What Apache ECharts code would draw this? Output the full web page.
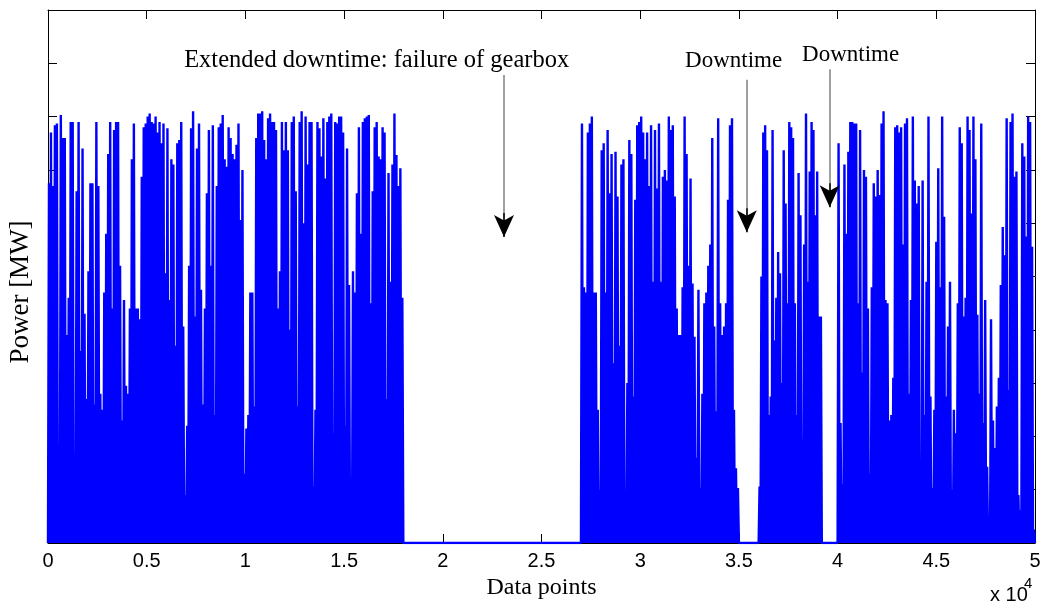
<!DOCTYPE html>
<html><head><meta charset="utf-8">
<script src="https://cdn.jsdelivr.net/npm/echarts@6/dist/echarts.min.js"></script>
<style>html,body{margin:0;padding:0;background:#fff}#c{width:1044px;height:605px}</style>
</head><body><div id="c"></div>
<script>
// x tick labels (in units of 10^4 data points)
const xTickLabels = ['0','0.5','1','1.5','2','2.5','3','3.5','4','4.5','5'];

// Upper envelope of power readings (axis units), ~100 data points per value
// Operating period 1: data points 0 - 18000
const segA = [6.75,7.7,6.7,7.84,7.87,1.75,8.03,7.6,7.6,3.9,4.6,7.9,7.9,0.75,6.6,7.9,3.6,7.4,4.3,2.7,5.1,6.75,6.75,2.6,7.9,6.7,2.8,2.5,4.7,5.8,7.3,7.9,4.4,7.75,7.9,7.9,5.2,2.3,4.56,2.95,2.8,4.4,7.2,7.87,4.4,4.4,4.2,6.87,7.8,7.87,8.0,8.06,7.9,7.87,8.0,7.7,7.9,7.5,7.87,5.06,7.78,4.56,7.2,7.1,3.7,7.5,
  7.56,7.9,4.06,0.9,2.2,5.2,7.78,8.1,4.25,7.4,7.87,4.75,2.6,4.4,6.56,7.75,5.2,7.84,2.4,6.7,7.8,7.87,8.03,7.2,7.06,7.8,7.6,7.3,7.2,7.47,7.87,6.06,7.0,1.3,2.15,2.4,4.7,4.7,2.56,7.6,8.06,8.06,8.1,7.56,7.2,7.97,8.06,7.9,7.9,7.75,4.4,5.1,7.9,7.37,7.9,7.37,4.0,7.9,8.0,6.6,2.56,7.9,8.1,6.0,8.0,7.1,
  7.9,7.9,1.06,2.5,7.9,7.78,7.25,7.97,6.84,7.9,8.0,8.06,2.06,7.9,7.87,8.0,8.0,7.7,2.2,7.4,4.84,0.96,5.1,4.7,6.56,7.8,5.8,7.9,7.97,8.0,8.03,4.5,6.6,7.8,7.9,7.25,7.2,7.8,7.7,2.7,6.94,4.9,7.1,8.06,7.28,6.7,7.03,4.6];
// Operating period 2: data points 27000 - 35000
const segB = [7.87,4.8,4.7,7.7,7.87,8.0,4.7,4.7,2.5,1.0,7.37,7.5,4.7,7.75,6.56,7.3,3.37,7.34,6.5,3.7,7.1,7.2,0.9,3.0,7.56,7.3,2.75,6.44,7.84,7.9,8.0,7.7,7.2,7.7,6.7,7.84,4.9,7.75,6.65,7.87,4.9,6.87,7.0,6.8,8.0,7.75,7.84,6.5,4.4,3.9,3.9,4.8,8.0,7.3,5.2,6.84,4.87,3.87,1.6,4.75,1.03,2.8,4.5,4.7,5.2,5.6,7.6,4.06,2.47,7.97,4.5,3.9,4.06,4.5,6.44,7.84,7.97,2.5,1.4,1.03];
// Operating period 3: data points 36000 - 39200
const segC = [1.06,5.0,7.7,7.84,7.37,2.4,2.75,7.75,3.8,4.6,5.46,5.06,3.0,7.37,6.37,4.5,7.9,7.8,7.6,4.5,2.4,6.94,6.15,1.94,5.6,8.06,4.9,6.97,7.9,7.75,6.15,6.97,4.25,4.25];
// Operating period 4: data points 40000 - 50000
const segD = [7.5,2.25,1.1,7.1,5.8,7.34,7.9,7.9,7.87,7.87,4.5,7.75,3.2,7.0,6.87,4.4,1.3,4.8,6.75,6.5,7.0,6.53,7.87,8.1,4.56,4.5,2.3,2.4,3.1,7.8,7.84,
  7.7,7.8,5.6,7.87,7.97,2.8,4.56,8.0,6.8,6.37,6.7,1.25,6.8,2.4,4.9,8.0,2.75,1.03,2.5,5.65,7.03,4.8,8.0,6.12,2.75,4.06,4.9,1.0,2.5,2.06,4.5,7.8,7.5,4.25,4.6,8.0,7.75,6.18,8.0,7.2,4.28,2.8,7.87,2.25,4.56,1.43,0.37,4.2,2.3,1.78,2.56,3.1,4.84,5.93,5.4,7.97,2.87,7.9,8.06,6.87,6.97,0.9,0.62,7.5,7.25,5.75,8.0,7.9,5.56,0.25];

const segStarts = [0, 27000, 36000, 40000];
const segEnds = [18000, 35000, 39200, 50000];
const segValues = [segA, segB, segC, segD];

// Annotations (data coordinates)
const annotTexts = ['Extended downtime: failure of gearbox', 'Downtime', 'Downtime'];
const annotTextX = [16650, 34730, 40660];
const annotTextY = [9.06, 9.04, 9.16];
const annotFontSize = [24.5, 23, 23];
const arrowX = [23100, 35400, 39600];
const arrowFrom = [8.78, 8.69, 8.89];
const arrowTo = [5.74, 5.83, 6.30];

// Build line data: each reading swings from zero to its peak (dense sampling)
const lineData = [];
segValues.forEach((vals, k) => {
  const s = segStarts[k], e = segEnds[k], step = (e - s) / vals.length;
  lineData.push([s, 0]);
  vals.forEach((p, i) => {
    lineData.push([s + (i + 0.5) * step, p]);
    lineData.push([s + (i + 1) * step, 0]);
  });
});

const markLineData = [];
arrowX.forEach((x, i) => {
  markLineData.push([
    {coord: [x, arrowFrom[i]], symbol: 'none', lineStyle: {color: '#808080', width: 1.5, type: 'solid'}},
    {coord: [x, arrowTo[i] + 0.2], symbol: 'none'}
  ]);
  markLineData.push([
    {coord: [x, arrowTo[i] + 0.45], symbol: 'none', lineStyle: {color: '#000', width: 1.5, type: 'solid'}},
    {coord: [x, arrowTo[i]], symbol: 'arrow', symbolSize: [15, 22]}
  ]);
});
const serif = 'Liberation Serif, Times New Roman, serif';
const sans = 'Liberation Sans, Arial, sans-serif';
const markPointData = annotTexts.map((t, i) => ({
  coord: [annotTextX[i], annotTextY[i]], value: t,
  label: {fontSize: annotFontSize[i]}
}));

const chart = echarts.init(document.getElementById('c'), null, {renderer: 'canvas'});
chart.setOption({
  animation: false,
  backgroundColor: '#fff',
  grid: {left: 48, right: 9, top: 10, bottom: 62, containLabel: false, outerBoundsMode: 'none'},
  xAxis: [{
    type: 'value', min: 0, max: 50000, interval: 5000,
    name: 'Data points', nameLocation: 'middle', nameGap: 32,
    nameTextStyle: {fontFamily: serif, fontSize: 24, color: '#000'},
    axisLine: {show: true, onZero: false, lineStyle: {color: '#000', width: 1}},
    axisTick: {show: true, inside: true, length: 9, lineStyle: {color: '#000'}},
    axisLabel: {show: true, margin: 8, fontFamily: sans, fontSize: 20, color: '#000',
      showMinLabel: true, showMaxLabel: true, hideOverlap: false,
      formatter: v => xTickLabels[Math.round(v / 5000)]},
    splitLine: {show: false}
  }, {
    type: 'value', position: 'top', min: 0, max: 50000, interval: 5000,
    axisLine: {show: true, onZero: false, lineStyle: {color: '#000', width: 1}},
    axisTick: {show: true, inside: true, length: 9, lineStyle: {color: '#000'}},
    axisLabel: {show: false}, splitLine: {show: false}
  }],
  yAxis: [{
    type: 'value', min: 0, max: 10, interval: 1,
    axisLine: {show: true, onZero: false, lineStyle: {color: '#000', width: 1}},
    axisTick: {show: true, inside: true, length: 9, lineStyle: {color: '#000'}},
    axisLabel: {show: false}, splitLine: {show: false}
  }, {
    type: 'value', position: 'right', min: 0, max: 10, interval: 1,
    axisLine: {show: true, onZero: false, lineStyle: {color: '#000', width: 1}},
    axisTick: {show: true, inside: true, length: 9, lineStyle: {color: '#000'}},
    axisLabel: {show: false}, splitLine: {show: false}
  }],
  series: [{
    type: 'line', xAxisIndex: 0, yAxisIndex: 0,
    data: lineData, showSymbol: false, symbol: 'none',
    lineStyle: {color: '#0000ff', width: 2.4, join: 'bevel'},
    z: 2, silent: true,
    markLine: {silent: true, data: markLineData, label: {show: false}, animation: false},
    markPoint: {
      silent: true, symbol: 'rect', symbolSize: 1,
      itemStyle: {color: 'rgba(0,0,0,0)'},
      label: {show: true, position: 'inside', formatter: p => p.value,
        fontFamily: serif, fontSize: 23, color: '#000'},
      data: markPointData
    }
  }],
  graphic: [
    {type: 'text', x: 21, y: 292, rotation: Math.PI / 2,
      style: {text: 'Power [MW]', font: '27px ' + serif, fill: '#000', align: 'center', verticalAlign: 'middle'}},
    {type: 'text', x: 990, y: 605, style: {text: 'x 10', font: '20px ' + sans, fill: '#000', verticalAlign: 'bottom'}},
    {type: 'text', x: 1024, y: 591, style: {text: '4', font: '15px ' + sans, fill: '#000', verticalAlign: 'bottom'}}
  ]
});
</script></body></html>
